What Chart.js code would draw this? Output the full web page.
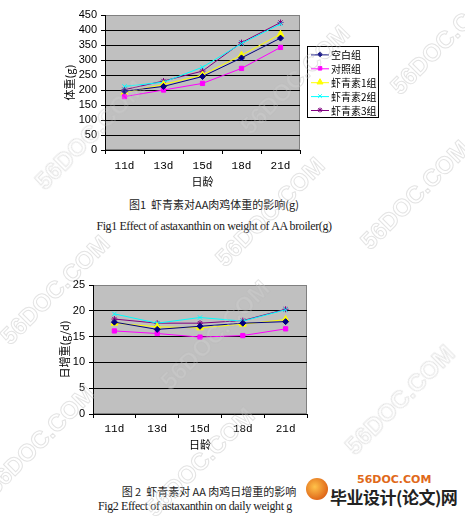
<!DOCTYPE html>
<html>
<head>
<meta charset="utf-8">
<script src="https://cdn.jsdelivr.net/npm/chart.js@4/dist/chart.umd.min.js"></script>
<style>
  body { margin: 0; width: 465px; height: 522px; background: #fff; position: relative; overflow: hidden; }
  canvas { position: absolute; left: 0; }
  .cap { position: absolute; white-space: nowrap; color: #222; transform: translateX(-50%); }
  .zh { font-family: "Noto Sans CJK SC", sans-serif; font-size: 11px; }
  .en { font-family: "Liberation Serif", serif; font-size: 12px; letter-spacing: -0.4px; }
  .wm { position: absolute; white-space: nowrap; font: bold 24px "Liberation Sans", sans-serif;
        color: rgba(255,255,255,0.1); -webkit-text-stroke: 1px rgba(185,185,185,0.4);
        transform: translate(-50%, -50%) rotate(-45deg); pointer-events: none; }
</style>
</head>
<body>
<canvas id="weightChart" width="465" height="190" style="top:0"></canvas>
<canvas id="gainChart" width="465" height="185" style="top:270px"></canvas>

<div class="cap zh" style="left:214px; top:196px">图1&nbsp; 虾青素对AA肉鸡体重的影响(g)</div>
<div class="cap en" style="left:214px; top:219px">Fig1 Effect of astaxanthin on weight of AA broiler(g)</div>
<div class="cap zh" style="left:209px; top:483px">图 2&nbsp; 虾青素对 AA 肉鸡日增重的影响</div>
<div class="cap en" style="left:98px; top:499px; transform:none">Fig2 Effect of astaxanthin on daily weight g</div>

<div style="position:absolute; left:306px; top:478px; width:22px; height:22px; border-radius:50%; background:radial-gradient(circle at 40% 40%, #ffc24a, #e0691a 70%, #b8420c)"></div>
<div style="position:absolute; left:357px; top:473px; font:bold 11px 'DejaVu Sans', sans-serif; color:#e0691a">56DOC.COM</div>
<div style="position:absolute; left:330px; top:484px; font:bold 17px 'Noto Sans CJK SC', sans-serif; color:#222; letter-spacing:-0.5px">毕业设计(论文)网</div>

<div class="wm" style="left:90px; top:135px">56DOC.COM</div>
<div class="wm" style="left:295px; top:80px">56DOC.COM</div>
<div class="wm" style="left:445px; top:40px">56DOC.COM</div>
<div class="wm" style="left:270px; top:212px">56DOC.COM</div>
<div class="wm" style="left:415px; top:195px">56DOC.COM</div>
<div class="wm" style="left:55px; top:290px">56DOC.COM</div>
<div class="wm" style="left:215px; top:335px">56DOC.COM</div>
<div class="wm" style="left:40px; top:440px">56DOC.COM</div>
<div class="wm" style="left:200px; top:462px">56DOC.COM</div>
<div class="wm" style="left:400px; top:400px">56DOC.COM</div>

<script>
const days = ["11d", "13d", "15d", "18d", "21d"];
const groupNames = ["空白组", "对照组", "虾青素1组", "虾青素2组", "虾青素3组"];

// body weight (g)
const weightBlank = [196, 212, 245, 307, 373];
const weightControl = [178, 200, 222, 272, 342];
const weightAsta1 = [192, 218, 250, 316, 386];
const weightAsta2 = [212, 226, 276, 355, 420];
const weightAsta3 = [201, 230, 263, 358, 425];
const weightTicks = [0, 50, 100, 150, 200, 250, 300, 350, 400, 450];

// daily gain (g/d)
const gainBlank = [17.8, 16.4, 17.0, 17.6, 17.9];
const gainControl = [16.1, 15.6, 14.9, 15.2, 16.5];
const gainAsta1 = [17.6, 16.9, 16.7, 17.4, 18.3];
const gainAsta2 = [19.4, 17.6, 18.7, 18.0, 20.2];
const gainAsta3 = [18.4, 17.6, 17.6, 18.1, 20.3];
const gainTicks = [0, 5, 10, 15, 20, 25];

const colors = ["#000080", "#ff00ff", "#ffff00", "#00ffff", "#800080"];
const markers = ["rectRot", "rect", "triangle", "crossRot", "star"];
const markerSizes = [3, 3, 4, 3, 3];

const plotBg = {
  id: "plotBg",
  beforeDraw(chart) {
    const { ctx, chartArea: a } = chart;
    ctx.save();
    ctx.fillStyle = "#c0c0c0";
    ctx.fillRect(a.left, a.top, a.right - a.left, a.bottom - a.top);
    ctx.strokeStyle = "#808080";
    ctx.lineWidth = 1;
    ctx.strokeRect(a.left + 0.5, a.top + 0.5, a.right - a.left - 1, a.bottom - a.top - 1);
    ctx.restore();
  }
};

// excel style legend: white box with black border, line + marker samples
const boxLegend = {
  id: "boxLegend",
  afterDraw(chart, args, opts) {
    const { ctx } = chart;
    const b = opts.box;
    ctx.save();
    ctx.fillStyle = "#fff";
    ctx.fillRect(b.x, b.y, b.w, b.h);
    ctx.strokeStyle = "#000";
    ctx.lineWidth = 1;
    ctx.strokeRect(b.x + 0.5, b.y + 0.5, b.w - 1, b.h - 1);
    ctx.font = opts.font;
    ctx.textBaseline = "middle";
    chart.data.datasets.forEach((ds, i) => {
      const y = b.y + opts.first + i * opts.step;
      ctx.strokeStyle = ds.borderColor;
      ctx.beginPath();
      ctx.moveTo(b.x + opts.lineFrom, y + 0.5);
      ctx.lineTo(b.x + opts.lineTo, y + 0.5);
      ctx.stroke();
      ctx.fillStyle = ds.backgroundColor;
      ctx.strokeStyle = ds.borderColor;
      const mid = b.x + (opts.lineFrom + opts.lineTo) / 2;
      if (Chart.helpers && Chart.helpers.drawPoint) {
        Chart.helpers.drawPoint(ctx, { pointStyle: ds.pointStyle, radius: ds.pointRadius - 0.5, rotation: 0, borderWidth: 1 }, mid, y);
      } else {
        ctx.fillRect(mid - 2, y - 2, 5, 5);
      }
      ctx.fillStyle = "#000";
      ctx.fillText(ds.label, b.x + opts.textX, y + 1);
    });
    ctx.restore();
  }
};

function buildDatasets(seriesList) {
  return seriesList.map((values, i) => ({
    label: groupNames[i],
    data: values,
    borderColor: colors[i],
    backgroundColor: colors[i],
    borderWidth: 1,
    pointStyle: markers[i],
    pointRadius: markerSizes[i],
    pointBorderWidth: 1,
    tension: 0
  }));
}

function makeChart(id, seriesList, ticks, cfg) {
  const yMax = ticks[ticks.length - 1];
  return new Chart(document.getElementById(id), {
    type: "line",
    data: { labels: days, datasets: buildDatasets(seriesList) },
    plugins: [plotBg, boxLegend],
    options: {
      responsive: false,
      animation: false,
      layout: { padding: cfg.padding },
      plugins: {
        legend: { display: false },
        tooltip: { enabled: false },
        boxLegend: cfg.legend
      },
      scales: {
        x: {
          offset: true,
          afterFit: (s) => { s.height = cfg.xHeight; },
          grid: { offset: true, drawOnChartArea: false, drawTicks: true, tickLength: 4, color: "#000" },
          border: { color: "#000", width: 1 },
          ticks: { color: "#000", padding: cfg.xTickPad, font: { family: "Liberation Mono", size: 11 } },
          title: { display: true, text: "日龄", color: "#000", padding: { top: 0, bottom: cfg.xTitlePad }, font: { family: "Noto Sans CJK SC", size: 11 } }
        },
        y: {
          min: 0,
          max: yMax,
          afterFit: (s) => { s.width = cfg.yWidth; },
          afterBuildTicks: (s) => { s.ticks = ticks.map((v) => ({ value: v })); },
          grid: {
            drawTicks: true,
            tickLength: 4,
            color: (c) => (c.tick && c.tick.value === yMax ? "rgba(0,0,0,0)" : "#000"),
            tickColor: "#000"
          },
          border: { color: "#000", width: 1 },
          ticks: { color: "#000", padding: 4, autoSkip: false, font: { family: "Liberation Sans", size: 11 } },
          title: { display: true, text: cfg.yTitle, color: "#000", padding: { top: cfg.yTitlePad, bottom: 0 }, font: { family: "Noto Sans CJK SC", size: 11 } }
        }
      }
    }
  });
}

document.addEventListener("DOMContentLoaded", () => {
  makeChart("weightChart",
    [weightBlank, weightControl, weightAsta1, weightAsta2, weightAsta3],
    weightTicks,
    {
      padding: { left: 58, right: 165, top: 15, bottom: 0 },
      xHeight: 40, xTickPad: 5, xTitlePad: 2, yWidth: 47, yTitlePad: 5, yTitle: "体重(g)",
      legend: { box: { x: 307, y: 46, w: 72, h: 72 }, first: 8.4, step: 13.9, lineFrom: 4, lineTo: 22, textX: 24, font: "10px 'Noto Sans CJK SC'" }
    });

  makeChart("gainChart",
    [gainBlank, gainControl, gainAsta1, gainAsta2, gainAsta3],
    gainTicks,
    {
      padding: { left: 53, right: 158, top: 15, bottom: 0 },
      xHeight: 41, xTickPad: 4, xTitlePad: 4, yWidth: 40, yTitlePad: 5, yTitle: "日增重(g/d)",
      legend: { box: { x: 316, y: 313, w: 76, h: 70 }, first: 8.5, step: 13.5, lineFrom: 2, lineTo: 22, textX: 24, font: "11px 'Noto Sans CJK SC'" }
    });
});
</script>
</body>
</html>
